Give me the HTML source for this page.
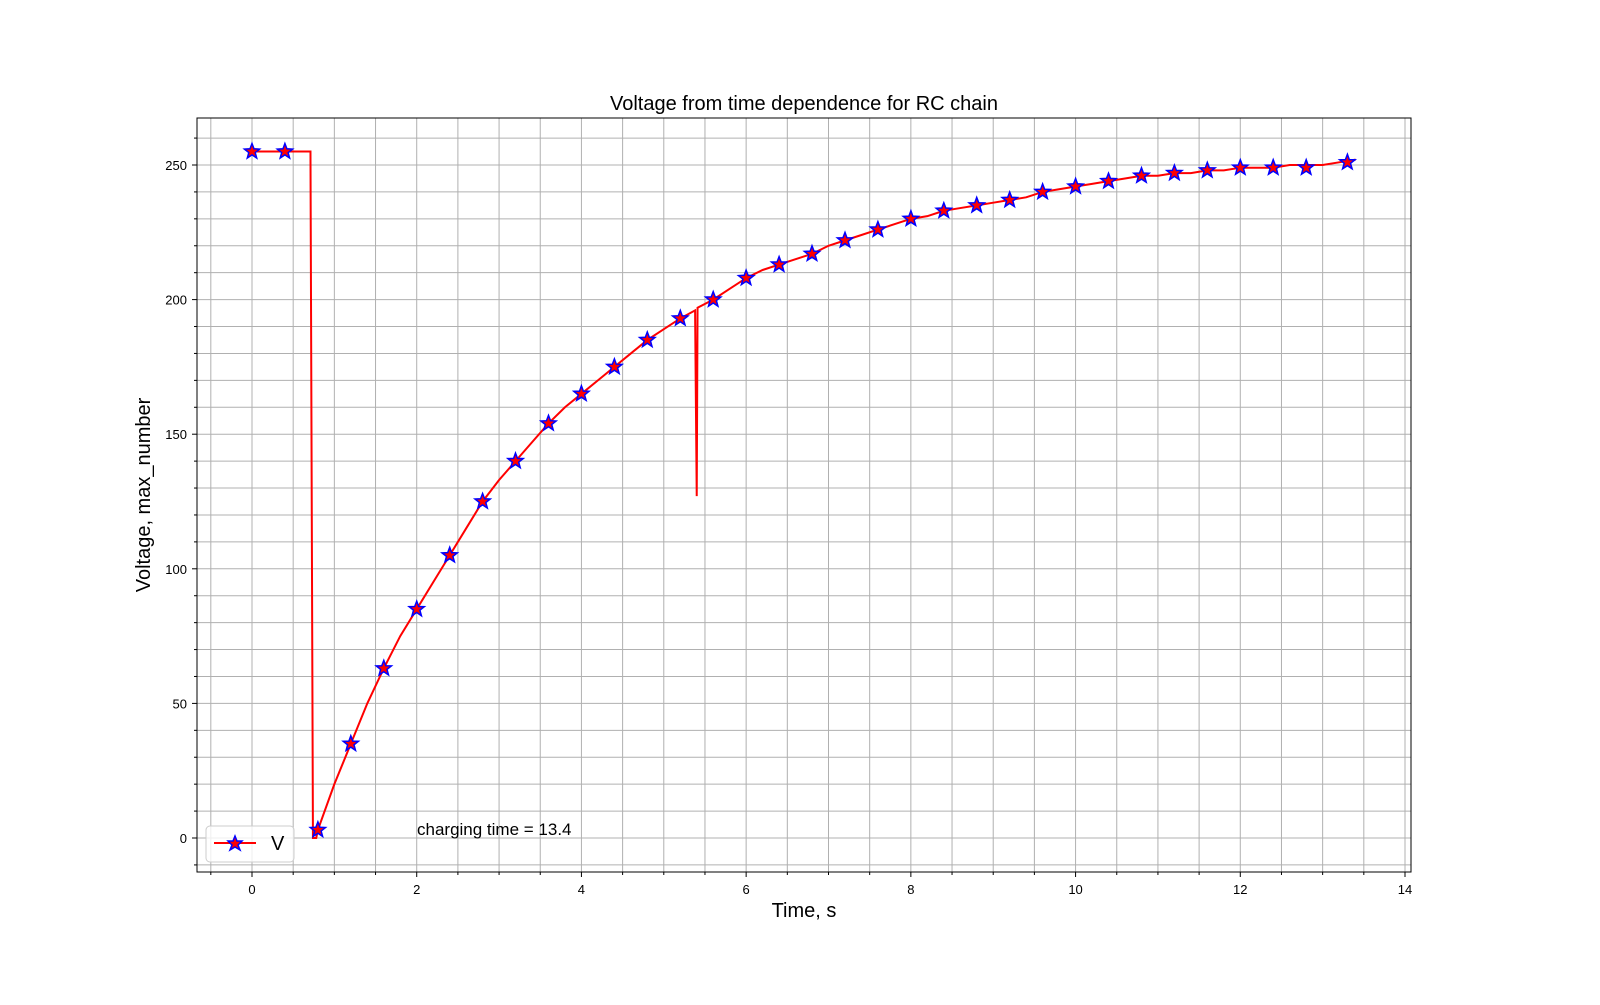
<!DOCTYPE html>
<html><head><meta charset="utf-8"><style>
body{margin:0;background:#fff;width:1600px;height:1000px;overflow:hidden}
svg text{font-family:"Liberation Sans","DejaVu Sans",sans-serif}
</style></head><body>
<svg id="chart" width="1600" height="1000" xmlns="http://www.w3.org/2000/svg">
<g id="grid"></g>
<g id="series"></g>
<g id="axes"></g>
<text x="804" y="110" font-size="20" text-anchor="middle">Voltage from time dependence for RC chain</text>
<text x="804" y="917" font-size="20" text-anchor="middle">Time, s</text>
<text transform="translate(150,495) rotate(-90)" font-size="20" text-anchor="middle">Voltage, max_number</text>
<text x="417" y="835" font-size="17">charging time = 13.4</text>
<g>
<rect x="206" y="826" width="88" height="36" rx="4" fill="#fff" fill-opacity="0.8" stroke="#ccc"/>
<line x1="214" y1="843" x2="256" y2="843" stroke="red" stroke-width="2"/>
<polygon points="235,836 237,841 242,841 238,845 240,850 235,847 230,850 232,845 228,841 233,841" fill="red" stroke="blue" stroke-width="1.5"/>
<text x="271" y="850" font-size="20">V</text>
</g>
</svg>
<script>
const xTicks=[0,2,4,6,8,10,12,14];
const yTicks=[0,50,100,150,200,250];
const markerT=[0,0.4,0.8,1.2,1.6,2.0,2.4,2.8,3.2,3.6,4.0,4.4,4.8,5.2,5.6,6.0,6.4,6.8,7.2,7.6,8.0,8.4,8.8,9.2,9.6,10.0,10.4,10.8,11.2,11.6,12.0,12.4,12.8,13.3];
const markerV=[255,255,3,35,63,85,105,125,140,154,165,175,185,193,200,208,213,217,222,226,230,233,235,237,240,242,244,246,247,248,249,249,249,251];
const lineT=[0,0.71,0.74,0.78,0.8,1.0,1.2,1.4,1.6,1.8,2.0,2.2,2.4,2.6,2.8,3.0,3.2,3.4,3.6,3.8,4.0,4.2,4.4,4.6,4.8,5.0,5.2,5.38,5.40,5.41,5.6,5.8,6.0,6.2,6.4,6.6,6.8,7.0,7.2,7.4,7.6,7.8,8.0,8.2,8.4,8.6,8.8,9.0,9.2,9.4,9.6,9.8,10.0,10.2,10.4,10.6,10.8,11.0,11.2,11.4,11.6,11.8,12.0,12.2,12.4,12.6,12.8,13.0,13.2,13.4];
const lineV=[255,255,0,0,3,20,35,50,63,75,85,95,105,115,125,133,140,147,154,160,165,170,175,180,185,189,193,196,127,197,200,204,208,211,213,215,217,220,222,224,226,228,230,231,233,234,235,236,237,238,240,241,242,243,244,245,246,246,247,247,248,248,249,249,249,250,250,250,251,252];
const L=197,R=1411,T=118,B=872;
const X=t=>252+t*(1405-252)/14;
const Y=v=>838-v*(838-165)/250;
const NS="http://www.w3.org/2000/svg";
function mk(tag,attrs,parent){const e=document.createElementNS(NS,tag);for(const k in attrs)e.setAttribute(k,attrs[k]);parent.appendChild(e);return e;}
const grid=document.getElementById('grid'),axes=document.getElementById('axes'),series=document.getElementById('series');
for(let t=-0.5;t<=14.01;t+=0.5){const x=X(t);
 const g=mk('line',{x1:x,x2:x,y1:T,y2:B,stroke:'#b0b0b0','stroke-width':1},grid);
 
 
 mk('line',{x1:x,x2:x,y1:B,y2:B+(Math.abs(t%2)<1e-6?5:3),stroke:'#000'},axes);}
for(let v=-10;v<=260;v+=10){const y=Y(v);
 const g=mk('line',{x1:L,x2:R,y1:y,y2:y,stroke:'#b0b0b0','stroke-width':1},grid);
 
 
 mk('line',{x1:L-(v%50===0?5:3),x2:L,y1:y,y2:y,stroke:'#000'},axes);}
xTicks.forEach(t=>{const e=mk('text',{x:X(t),y:B+22,'font-size':13,'text-anchor':'middle'},axes);e.textContent=t;
 
 });
yTicks.forEach(v=>{const e=mk('text',{x:L-10,y:Y(v)+5,'font-size':13,'text-anchor':'end'},axes);e.textContent=v;
 
 });
const fr=mk('rect',{x:L,y:T,width:R-L,height:B-T,fill:'none',stroke:'#000','stroke-width':1},axes);


const pl=mk('polyline',{points:lineT.map((t,i)=>X(t)+','+Y(lineV[i])).join(' '),fill:'none',stroke:'red','stroke-width':2},series);


function star(cx,cy,r){let p=[];for(let i=0;i<10;i++){const a=-Math.PI/2+i*Math.PI/5,rr=i%2?r*0.42:r;p.push((cx+rr*Math.cos(a)).toFixed(1)+','+(cy+rr*Math.sin(a)).toFixed(1));}return p.join(' ');}
markerT.forEach((t,i)=>{const s=mk('polygon',{points:star(X(t),Y(markerV[i]),8),fill:'red',stroke:'blue','stroke-width':1.5},series);
 
 });
</script>
</body></html>
